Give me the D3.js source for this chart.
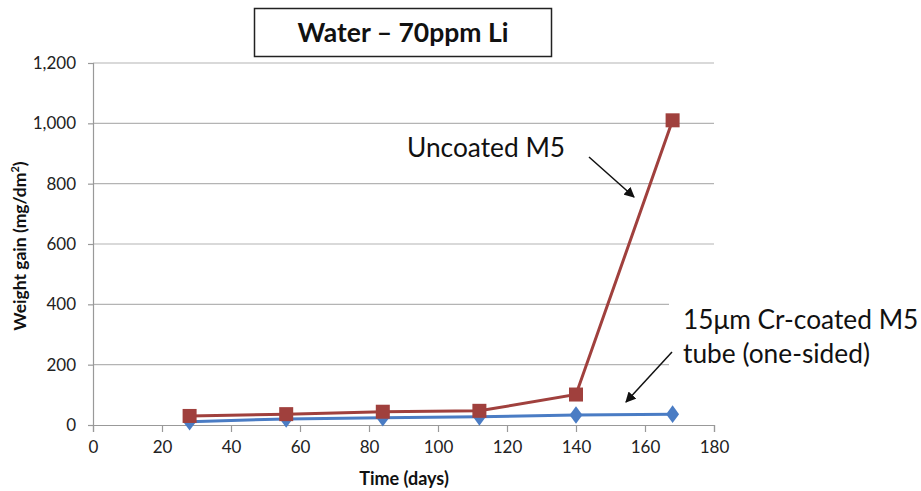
<!DOCTYPE html>
<html><head><meta charset="utf-8">
<script src="https://cdn.jsdelivr.net/npm/d3@7"></script>
<style>body{margin:0;background:#fff}svg{display:block}</style>
</head><body>
<svg id="c" width="921" height="491"></svg>
<script>
const days = [28, 56, 84, 112, 140, 168];
const uncoated = [30, 36, 44, 47, 101, 1010];
const coated = [11, 20, 24, 27, 33, 36];
const xTicks = [0, 20, 40, 60, 80, 100, 120, 140, 160, 180];
const yTicks = [0, 200, 400, 600, 800, 1000, 1200];
const title = "Water \u2013 70ppm Li";
const xTitle = "Time (days)";
const labelUncoated = "Uncoated M5";
const labelCoated = ["15\u03bcm Cr-coated M5", "tube (one-sided)"];

const font = "Lato, 'Open Sans', sans-serif";
const svg = d3.select("#c");
const x = d3.scaleLinear().domain([0, 180]).range([93, 714]);
const y = d3.scaleLinear().domain([0, 1200]).range([425, 63]);
const red = "#A0403D", blue = "#4A7CC4";

// gridlines
svg.append("g").selectAll("line").data(yTicks.filter(d => d > 0)).join("line")
  .attr("x1", x(0)).attr("x2", x(180)).attr("y1", d => y(d)).attr("y2", d => y(d))
  .attr("stroke", "#b4b4b4").attr("stroke-width", 1.2);

// axes
const ya = svg.append("g").attr("transform", `translate(${x(0)},0)`)
  .call(d3.axisLeft(y).tickValues(yTicks).tickSize(5).tickPadding(12).tickFormat(d3.format(",")));
const xa = svg.append("g").attr("transform", `translate(0,${y(0)})`)
  .call(d3.axisBottom(x).tickValues(xTicks).tickSize(7).tickPadding(9));
[ya, xa].forEach(a => {
  a.select(".domain").attr("stroke", "#999").attr("stroke-width", 1.2);
  a.selectAll(".tick line").attr("stroke", "#999").attr("stroke-width", 1.2);
  a.selectAll("text").attr("font-family", font).attr("font-size", 17).attr("fill", "#222");
});

// white box behind coated label (hides gridline ends)
svg.append("rect").attr("x", 669).attr("y", 290).attr("width", 252).attr("height", 90).attr("fill", "#fff");

// lines
const line = d3.line().x(d => x(d[0])).y(d => y(d[1]));
const cData = days.map((d, i) => [d, coated[i]]);
const uData = days.map((d, i) => [d, uncoated[i]]);
svg.append("path").datum(cData).attr("d", line).attr("fill", "none").attr("stroke", blue).attr("stroke-width", 3);
svg.append("path").datum(uData).attr("d", line).attr("fill", "none").attr("stroke", red).attr("stroke-width", 3);
svg.append("g").selectAll("path").data(cData).join("path")
  .attr("d", d3.symbol(d3.symbolDiamond, 110))
  .attr("transform", d => `translate(${x(d[0])},${y(d[1])}) scale(1.15,0.9)`)
  .attr("fill", blue);
svg.append("g").selectAll("rect").data(uData).join("rect")
  .attr("x", d => x(d[0]) - 7).attr("y", d => y(d[1]) - 7)
  .attr("width", 14).attr("height", 14).attr("fill", red);

// title
svg.append("rect").attr("x", 254.5).attr("y", 8.5).attr("width", 297).attr("height", 48)
  .attr("fill", "#fff").attr("stroke", "#222").attr("stroke-width", 1.5);
svg.append("text").attr("x", 403).attr("y", 42).attr("text-anchor", "middle")
  .attr("font-family", font).attr("font-weight", "bold").attr("font-size", 26.5).attr("fill", "#111").text(title);

// axis titles
svg.append("text").attr("x", 404).attr("y", 485).attr("text-anchor", "middle")
  .attr("font-family", font).attr("font-weight", "bold").attr("font-size", 18).attr("fill", "#111").text(xTitle);
const yt = svg.append("text").attr("transform", "translate(26,246) rotate(-90)").attr("text-anchor", "middle")
  .attr("font-family", font).attr("font-weight", "bold").attr("font-size", 17.5).attr("fill", "#111");
yt.append("tspan").text("Weight gain (mg/dm");
yt.append("tspan").attr("font-size", 11).attr("dy", -7).text("2");
yt.append("tspan").attr("dy", 7).text(")");

// annotations
const defs = svg.append("defs");
defs.append("marker").attr("id", "ah").attr("viewBox", "0 0 10 10").attr("refX", 9).attr("refY", 5)
  .attr("markerWidth", 7).attr("markerHeight", 7).attr("orient", "auto")
  .append("path").attr("d", "M0,0 L10,5 L0,10 z").attr("fill", "#111");
svg.append("text").attr("x", 407).attr("y", 157).attr("font-family", font).attr("font-size", 26.3).attr("fill", "#111").text(labelUncoated);
svg.append("line").attr("x1", 589).attr("y1", 157).attr("x2", 634).attr("y2", 197)
  .attr("stroke", "#111").attr("stroke-width", 1.5).attr("marker-end", "url(#ah)");
svg.append("text").attr("font-family", font).attr("font-size", 26.3).attr("fill", "#111")
  .selectAll("tspan").data(labelCoated).join("tspan").attr("x", 683).attr("y", (d, i) => 329 + i * 34).text(d => d);
svg.append("line").attr("x1", 672).attr("y1", 352).attr("x2", 626).attr("y2", 402)
  .attr("stroke", "#111").attr("stroke-width", 1.5).attr("marker-end", "url(#ah)");
</script>
</body></html>
